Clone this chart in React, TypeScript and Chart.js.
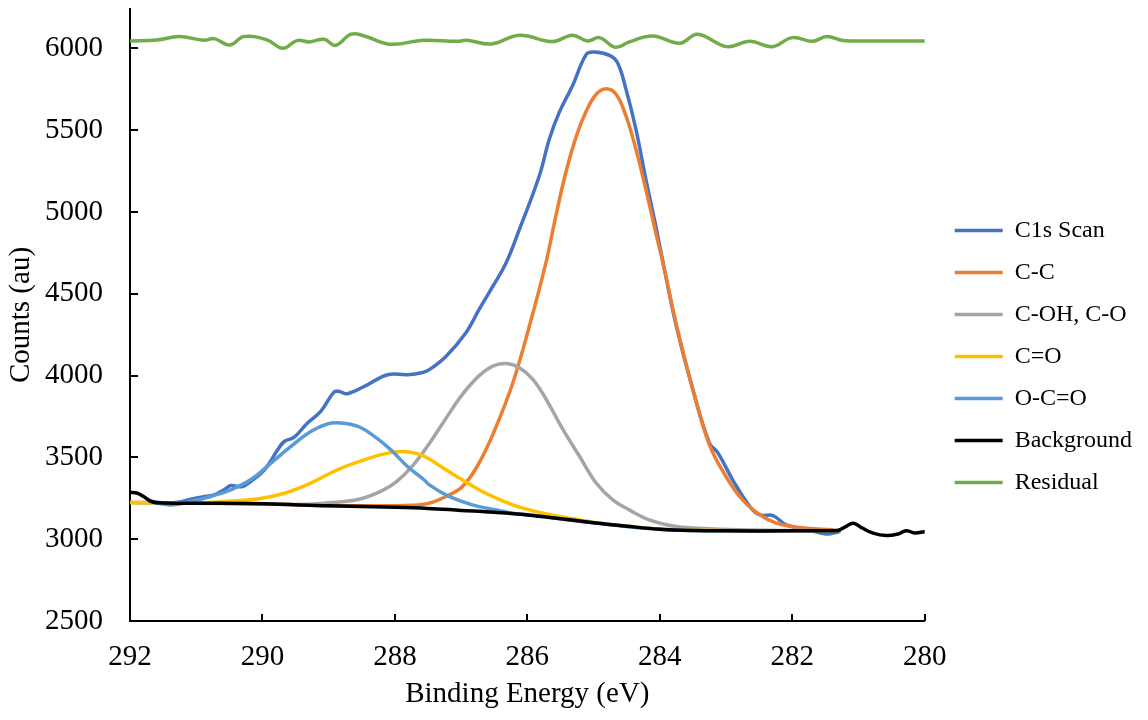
import React, { useEffect, useRef } from 'react';
import { Chart, registerables } from 'chart.js';

Chart.register(...registerables);

// ---- Axis ticks ----
const X_TICKS = [292, 290, 288, 286, 284, 282, 280];
const Y_TICKS = [2500, 3000, 3500, 4000, 4500, 5000, 5500, 6000];

// ---- Series (Binding Energy eV, Counts) ----
const scanX = [291.7, 291.45, 291.25, 291.08, 290.9, 290.73, 290.58, 290.48, 290.38, 290.3, 290.18, 289.97, 289.77, 289.67, 289.52, 289.32, 289.12, 288.92, 288.84, 288.72, 288.46, 288.11, 287.81, 287.58, 287.48, 287.23, 286.93, 286.73, 286.52, 286.32, 286.12, 285.82, 285.67, 285.52, 285.32, 285.11, 284.99, 284.76, 284.64, 284.51, 284.36, 284.21, 284.06, 283.93, 283.75, 283.5, 283.25, 283.12, 282.9, 282.64, 282.49, 282.29, 282.09, 281.79, 281.49, 281.29];
const scanY = [3232, 3222, 3228, 3245, 3258, 3271, 3302, 3328, 3322, 3322, 3352, 3424, 3546, 3597, 3624, 3710, 3781, 3899, 3903, 3889, 3934, 4005, 4005, 4019, 4036, 4117, 4260, 4403, 4546, 4689, 4893, 5219, 5443, 5607, 5769, 5963, 5977, 5957, 5913, 5749, 5504, 5198, 4913, 4648, 4301, 3913, 3587, 3526, 3363, 3199, 3149, 3144, 3087, 3061, 3032, 3046];

const ccX = [292, 291, 290, 289, 288.24, 287.73, 287.48, 287.23, 286.98, 286.73, 286.47, 286.22, 285.97, 285.72, 285.57, 285.42, 285.26, 285.11, 284.96, 284.81, 284.66, 284.51, 284.36, 284.21, 284.06, 283.93, 283.75, 283.5, 283.25, 283.0, 282.75, 282.49, 282.24, 281.89, 281.39];
const ccY = [3224, 3220, 3216, 3205, 3205, 3207, 3220, 3261, 3322, 3465, 3689, 3954, 4301, 4689, 4974, 5239, 5463, 5616, 5719, 5753, 5719, 5586, 5382, 5137, 4872, 4648, 4311, 3913, 3577, 3383, 3240, 3149, 3098, 3071, 3057];

const cohX = [292, 291, 290, 289.5, 289.07, 288.56, 288.2, 287.98, 287.73, 287.48, 287.23, 286.98, 286.73, 286.52, 286.32, 286.12, 285.92, 285.72, 285.47, 285.21, 284.96, 284.71, 284.46, 284.16, 283.8, 283.4, 282.8, 282.0, 281.3];
const cohY = [3224, 3220, 3216, 3212, 3220, 3243, 3295, 3350, 3450, 3585, 3738, 3885, 3998, 4058, 4073, 4048, 3978, 3858, 3675, 3505, 3343, 3240, 3179, 3118, 3081, 3067, 3057, 3053, 3052];

const coX = [292, 291, 290.58, 290.08, 289.67, 289.27, 288.87, 288.46, 288.11, 287.83, 287.61, 287.48, 287.23, 286.98, 286.73, 286.47, 286.22, 285.97, 285.72, 285.47, 285.21, 284.96, 284.5, 284.0, 283.0, 282.0, 281.3];
const coY = [3224, 3222, 3230, 3245, 3281, 3343, 3424, 3485, 3526, 3535, 3516, 3490, 3424, 3363, 3302, 3251, 3210, 3179, 3155, 3135, 3118, 3101, 3080, 3062, 3052, 3051, 3051];

const ocoX = [291.7, 291.5, 291.34, 291.08, 290.78, 290.48, 290.18, 289.87, 289.57, 289.27, 289.02, 288.82, 288.56, 288.31, 288.06, 287.81, 287.56, 287.48, 287.23, 286.98, 286.73, 286.47, 286.22, 285.97, 285.5, 285.0, 284.0, 283.0, 282.0, 281.3];
const ocoY = [3228, 3215, 3210, 3230, 3261, 3302, 3363, 3465, 3567, 3658, 3704, 3710, 3689, 3628, 3546, 3444, 3363, 3332, 3271, 3230, 3199, 3179, 3159, 3149, 3125, 3100, 3060, 3051, 3051, 3051];

const bgX = [292, 291.9, 291.8, 291.7, 291.6, 291.0, 290.0, 289.0, 288.0, 287.5, 287.0, 286.5, 286.0, 285.5, 285.0, 284.5, 284.0, 283.5, 283.0, 282.0, 281.45, 281.3, 281.2, 281.08, 280.95, 280.78, 280.58, 280.4, 280.28, 280.15, 280.0];
const bgY = [3285, 3282, 3262, 3235, 3222, 3220, 3216, 3204, 3195, 3188, 3176, 3164, 3148, 3125, 3100, 3079, 3061, 3053, 3051, 3051, 3052, 3055, 3075, 3098, 3070, 3037, 3022, 3032, 3052, 3038, 3046];

const resX = [292.0, 291.59, 291.26, 290.88, 290.73, 290.49, 290.28, 289.93, 289.69, 289.48, 289.29, 289.07, 288.9, 288.66, 288.46, 288.08, 287.56, 287.06, 286.91, 286.55, 286.12, 285.62, 285.32, 285.09, 284.91, 284.67, 284.46, 284.11, 283.7, 283.43, 282.99, 282.64, 282.3, 282.0, 281.69, 281.48, 281.24, 281.0, 280.0];
const resY = [6045, 6051, 6072, 6049, 6059, 6020, 6072, 6051, 6000, 6047, 6039, 6055, 6018, 6086, 6075, 6025, 6049, 6043, 6049, 6026, 6080, 6041, 6080, 6045, 6065, 6006, 6039, 6075, 6031, 6086, 6010, 6043, 6010, 6065, 6043, 6072, 6047, 6045, 6045];

const FONT = "'Liberation Serif', 'Times New Roman', serif";

const legendShift = {
  id: 'legendShift',
  afterLayout(chart: any) {
    const lg = chart.legend;
    if (!lg) return;
    lg.left += 12;
    lg.right += 12;
    lg.top -= 8;
    lg.bottom -= 8;
  },
};

// inward tick marks placed through the scales
const innerTicks = {
  id: 'innerTicks',
  afterDraw(chart: any) {
    const { ctx } = chart;
    const xs = chart.scales.x;
    const ys = chart.scales.y;
    ctx.save();
    ctx.strokeStyle = '#000';
    ctx.lineWidth = 2;
    ctx.beginPath();
    X_TICKS.forEach((v) => {
      const p = Math.round(xs.getPixelForValue(v));
      ctx.moveTo(p, xs.top);
      ctx.lineTo(p, xs.top - 7);
    });
    Y_TICKS.forEach((v) => {
      const p = Math.round(ys.getPixelForValue(v));
      ctx.moveTo(ys.right, p);
      ctx.lineTo(ys.right + 8, p);
    });
    ctx.stroke();
    ctx.restore();
  },
};

export default function App() {
  const ref = useRef<HTMLCanvasElement>(null);

  useEffect(() => {
    const canvas = ref.current;
    if (!canvas) return;
    const pts = (xs: number[], ys: number[]) => xs.map((x, i) => ({ x, y: ys[i] }));
    const mk = (label: string, xs: number[], ys: number[], color: string, order: number) => ({
      label,
      data: pts(xs, ys),
      borderColor: color,
      backgroundColor: color,
      borderWidth: 3.5,
      pointRadius: 0,
      pointHoverRadius: 0,
      tension: 0.4,
      borderCapStyle: 'round' as const,
      borderJoinStyle: 'round' as const,
      fill: false,
      order,
    });

    const chart = new Chart(canvas, {
      type: 'line',
      data: {
        datasets: [
          mk('C1s Scan', scanX, scanY, '#4472C4', 7),
          mk('C-C', ccX, ccY, '#ED7D31', 6),
          mk('C-OH, C-O', cohX, cohY, '#A5A5A5', 5),
          mk('C=O', coX, coY, '#FFC000', 4),
          mk('O-C=O', ocoX, ocoY, '#5B9BD5', 3),
          mk('Background', bgX, bgY, '#000000', 2),
          mk('Residual', resX, resY, '#70AD47', 1),
        ] as any,
      },
      options: {
        responsive: false,
        animation: false,
        devicePixelRatio: 1,
        layout: { padding: { top: 9, left: 0, right: 18, bottom: 0 } },
        plugins: {
          tooltip: { enabled: false },
          legend: {
            position: 'right',
            reverse: true,
            labels: {
              usePointStyle: true,
              pointStyle: 'line',
              pointStyleWidth: 48,
              padding: 18,
              color: '#000',
              font: { family: FONT, size: 24 },
            },
          },
        },
        scales: {
          x: {
            type: 'linear',
            reverse: true,
            min: 280,
            max: 292,
            afterBuildTicks: (scale: any) => {
              scale.ticks = X_TICKS.map((v) => ({ value: v }));
            },
            afterFit: (scale: any) => {
              scale.height = 99;
              scale.paddingLeft = 0;
              scale.paddingRight = 0;
            },
            border: { display: true, color: '#000', width: 2 },
            grid: { display: false, drawOnChartArea: false, drawTicks: false },
            ticks: {
              color: '#000',
              font: { family: FONT, size: 29 },
              padding: 19,
              maxRotation: 0,
              autoSkip: false,
              callback: (v: any) => String(v),
            },
            title: {
              display: true,
              text: 'Binding Energy (eV)',
              color: '#000',
              font: { family: FONT, size: 29 },
              padding: { top: 0, bottom: 8 },
            },
          },
          y: {
            type: 'linear',
            min: 2500,
            max: 6240,
            afterBuildTicks: (scale: any) => {
              scale.ticks = Y_TICKS.map((v) => ({ value: v }));
            },
            afterFit: (scale: any) => {
              scale.width = 130;
              scale.paddingTop = 0;
              scale.paddingBottom = 0;
            },
            border: { display: true, color: '#000', width: 2 },
            grid: { display: false, drawOnChartArea: false, drawTicks: false },
            ticks: {
              color: '#000',
              font: { family: FONT, size: 29 },
              padding: 27,
              callback: (v: any) => String(v),
            },
            title: {
              display: true,
              text: 'Counts (au)',
              color: '#000',
              font: { family: FONT, size: 29 },
              padding: { top: 4, bottom: 0 },
            },
          },
        },
      },
      plugins: [legendShift, innerTicks],
    });
    return () => chart.destroy();
  }, []);

  return (
    <div style={{ position: 'absolute', left: 0, top: 0, width: 1148, height: 720, background: '#fff' }}>
      <canvas ref={ref} width={1148} height={720} style={{ width: 1148, height: 720, display: 'block' }} />
    </div>
  );
}
